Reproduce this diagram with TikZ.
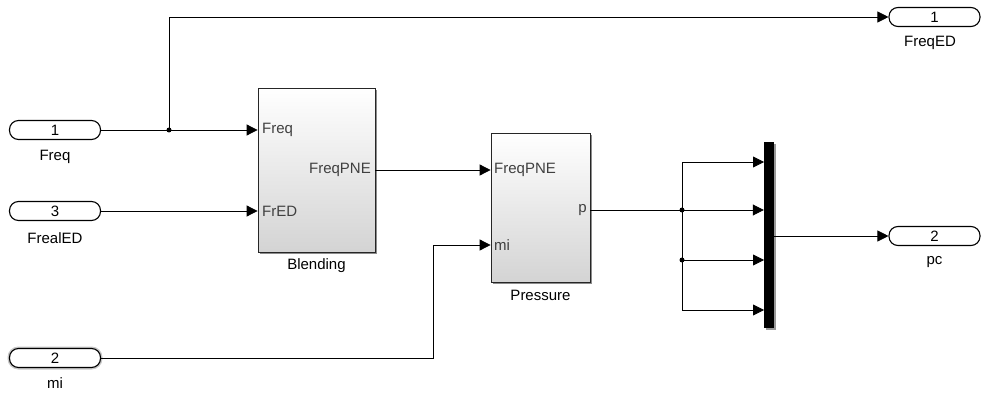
\documentclass[tikz,border=0pt]{standalone}
\usepackage{fontspec}
\setmainfont{Liberation Sans}
\usetikzlibrary{arrows.meta, shadows}
\tikzstyle{inport} = [rectangle, rounded corners=9pt, minimum width=91pt, minimum height=19pt, inner sep=0pt, draw=black, line width=1.1pt, fill=white]
\tikzstyle{chosen} = [preaction={draw=black!22, line width=4pt}]
\tikzstyle{block} = [rectangle, inner sep=0pt, draw=black!85, line width=0.8pt, top color=white, bottom color=black!17, drop shadow={shadow xshift=2pt, shadow yshift=-2pt, fill=black!45, opacity=1}]
\tikzstyle{bar} = [rectangle, inner sep=0pt, fill=black, drop shadow={shadow xshift=2pt, shadow yshift=-2pt, fill=black!40, opacity=1}]
\tikzstyle{portname} = [inner sep=0pt, text=black]
\tikzstyle{portlabel} = [inner sep=0pt, text=black!75]
\tikzstyle{dot} = [circle, fill=black, inner sep=0pt, minimum size=5pt]
\tikzstyle{arrow} = [-{Triangle[length=11pt, width=11pt]}, line width=0.8pt]

\begin{document}
\begin{tikzpicture}[x=1pt, y=-1pt, font=\fontsize{15}{18}\selectfont]
		\useasboundingbox (0,0) rectangle (982,393);
		% inports
		\node (freq) [inport] at (55,130) {1};
		\node (freqname) [portname] at (55,157) {Freq};
		\node (frealed) [inport] at (55,211) {3};
		\node (frealedname) [portname] at (55,238) {FrealED};
		\node (mi) [inport, chosen] at (55,358) {2};
		\node (miname) [portname] at (55,383) {mi};
		
		% subsystems
		\node (blend) [block, minimum width=117pt, minimum height=164pt] at (316.5,170) {};
		\node (blendname) [portname] at (316.5,266) {Blending};
		\node (blendfreq) [portlabel, anchor=west] at (262,130) {Freq};
		\node (blendfred) [portlabel, anchor=west] at (262,211) {FrED};
		\node (blendout) [portlabel, anchor=east] at (371,170) {FreqPNE};
		
		\node (press) [block, minimum width=99pt, minimum height=149pt] at (540.5,207.5) {};
		\node (pressname) [portname] at (540.5,295) {Pressure};
		\node (pressfreq) [portlabel, anchor=west] at (494,170) {FreqPNE};
		\node (pressmi) [portlabel, anchor=west] at (494,245) {mi};
		\node (pressp) [portlabel, anchor=east] at (587,210) {p};
		
		% mux
		\node (mux) [bar, minimum width=10pt, minimum height=186pt] at (769,235) {};
		\coordinate (muxin1) at (764,162);
		\coordinate (muxin3) at (764,260);
		\coordinate (muxin4) at (764,310);
		
		% outports
		\node (freqed) [inport] at (934.5,17) {1};
		\node (freqedname) [portname] at (930,43) {FreqED};
		\node (pc) [inport] at (934.5,236) {2};
		\node (pcname) [portname] at (934.5,262) {pc};
		
		% branch points
		\node (split1) [dot] at (169,130) {};
		\node (split2) [dot] at (682,210) {};
		\node (split3) [dot] at (682,260) {};
		\coordinate (mibend) at (433,245);
		
		\draw [arrow] (freq.east) -- (freq.east -| blend.west);
		\draw [arrow] (split1.center) |- (freqed.west);
		\draw [arrow] (frealed.east) -- (frealed.east -| blend.west);
		\draw [arrow] (blend.east |- blendout) -- (press.west |- blendout);
		\draw [arrow] (mi.east) -| (mibend) -- (press.west |- mibend);
		\draw [line width=0.8pt] (press.east |- pressp) -- (split2.center);
		\draw [arrow] (split2.center) -- (split2 -| mux.west);
		\draw [arrow] (split2.center) |- (muxin1);
		\draw [line width=0.8pt] (split2.center) -- (split3.center);
		\draw [arrow] (split3.center) -- (muxin3);
		\draw [arrow] (split3.center) |- (muxin4);
		\draw [arrow] (mux.east |- pc) -- (pc.west);
	\end{tikzpicture}
\end{document}
